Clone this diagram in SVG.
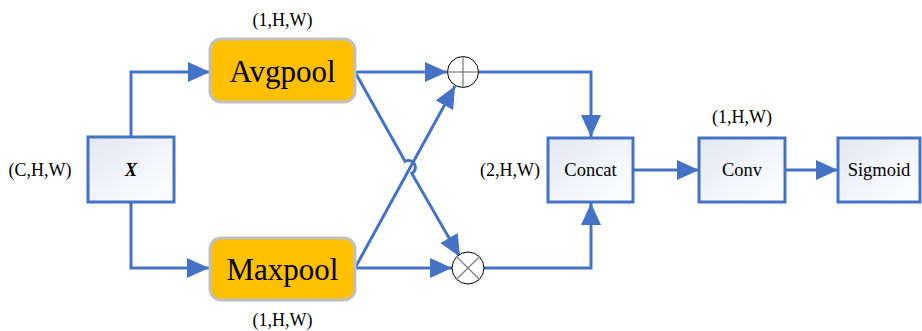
<svg xmlns="http://www.w3.org/2000/svg" width="922" height="331" viewBox="0 0 922 331">
  <defs>
    <linearGradient id="boxFill" x1="0" y1="0" x2="1" y2="1">
      <stop offset="0" stop-color="#e4e8f4"/>
      <stop offset="1" stop-color="#ffffff"/>
    </linearGradient>
    <marker id="arrow" markerUnits="userSpaceOnUse" markerWidth="24" markerHeight="22" refX="22" refY="10" orient="auto">
      <path d="M0,0 L22,10 L0,20 Z" fill="#4472c4"/>
    </marker>
  </defs>
  <style>
    .box { fill: url(#boxFill); stroke: #4472c4; stroke-width: 3; }
    .pool { fill: #ffc000; stroke: #c0c0c0; stroke-width: 3; }
    .wire { fill: none; stroke: #4472c4; stroke-width: 3; }
    .op { fill: #ffffff; stroke: #000000; stroke-width: 1; }
    .opmark { stroke: #808080; stroke-width: 1.3; }
    text { font-family: "Liberation Serif", "Times New Roman", serif; fill: #000000; }
    .dim { font-size: 18px; }
    .lbl { font-size: 18.5px; text-anchor: middle; }
    .big { font-size: 31px; text-anchor: middle; }
  </style>

  <!-- connectors -->
  <g id="connectors">
    <polyline class="wire" points="131,137 131,72 210,72" marker-end="url(#arrow)"/>
    <polyline class="wire" points="131,202 131,268 209,268" marker-end="url(#arrow)"/>
    <line class="wire" x1="355" y1="72" x2="447" y2="72" marker-end="url(#arrow)"/>
    <line class="wire" x1="355" y1="268" x2="452" y2="268" marker-end="url(#arrow)"/>
    <!-- Maxpool to add -->
    <line class="wire" x1="355" y1="268" x2="455" y2="86" marker-end="url(#arrow)"/>
    <!-- Avgpool to multiply, hopping over the crossing line -->
    <path class="wire" d="M355,72 L405,161.3 A5,5 0 0 1 411.8,173.4 L460,257" marker-end="url(#arrow)"/>
    <polyline class="wire" points="478,72 591,72 591,137" marker-end="url(#arrow)"/>
    <polyline class="wire" points="484,268 591,268 591,203" marker-end="url(#arrow)"/>
    <line class="wire" x1="633" y1="170" x2="699" y2="170" marker-end="url(#arrow)"/>
    <line class="wire" x1="785" y1="170" x2="838" y2="170" marker-end="url(#arrow)"/>
  </g>

  <g id="input">
    <rect class="box" x="88" y="137" width="86" height="65"/>
    <text x="131" y="176" font-size="18" font-weight="bold" font-style="italic" text-anchor="middle">X</text>
    <text class="dim" x="40" y="176" text-anchor="middle">(C,H,W)</text>
  </g>

  <g id="avgpool">
    <rect class="pool" x="210" y="39" width="145" height="63" rx="11"/>
    <text class="big" x="282.5" y="82">Avgpool</text>
    <text class="dim" x="282.5" y="26" text-anchor="middle">(1,H,W)</text>
  </g>

  <g id="maxpool">
    <rect class="pool" x="210" y="238" width="145" height="62" rx="11"/>
    <text class="big" x="282.5" y="280">Maxpool</text>
    <text class="dim" x="282.5" y="326" text-anchor="middle">(1,H,W)</text>
  </g>

  <g id="add">
    <circle class="op" cx="463" cy="72" r="15.5"/>
    <line class="opmark" x1="447.5" y1="72" x2="478.5" y2="72"/>
    <line class="opmark" x1="463" y1="56.5" x2="463" y2="87.5"/>
  </g>

  <g id="multiply">
    <circle class="op" cx="468" cy="268" r="16"/>
    <line class="opmark" x1="456.7" y1="256.7" x2="479.3" y2="279.3"/>
    <line class="opmark" x1="479.3" y1="256.7" x2="456.7" y2="279.3"/>
  </g>

  <g id="concat">
    <rect class="box" x="548" y="138" width="85" height="64"/>
    <text class="lbl" x="590.5" y="176">Concat</text>
    <text class="dim" x="540" y="176" text-anchor="end">(2,H,W)</text>
  </g>

  <g id="conv">
    <rect class="box" x="699" y="138" width="86" height="64"/>
    <text class="lbl" x="742" y="176">Conv</text>
    <text class="dim" x="742" y="123" text-anchor="middle">(1,H,W)</text>
  </g>

  <g id="sigmoid">
    <rect class="box" x="838" y="138" width="82" height="64"/>
    <text class="lbl" x="879" y="176">Sigmoid</text>
  </g>
</svg>
